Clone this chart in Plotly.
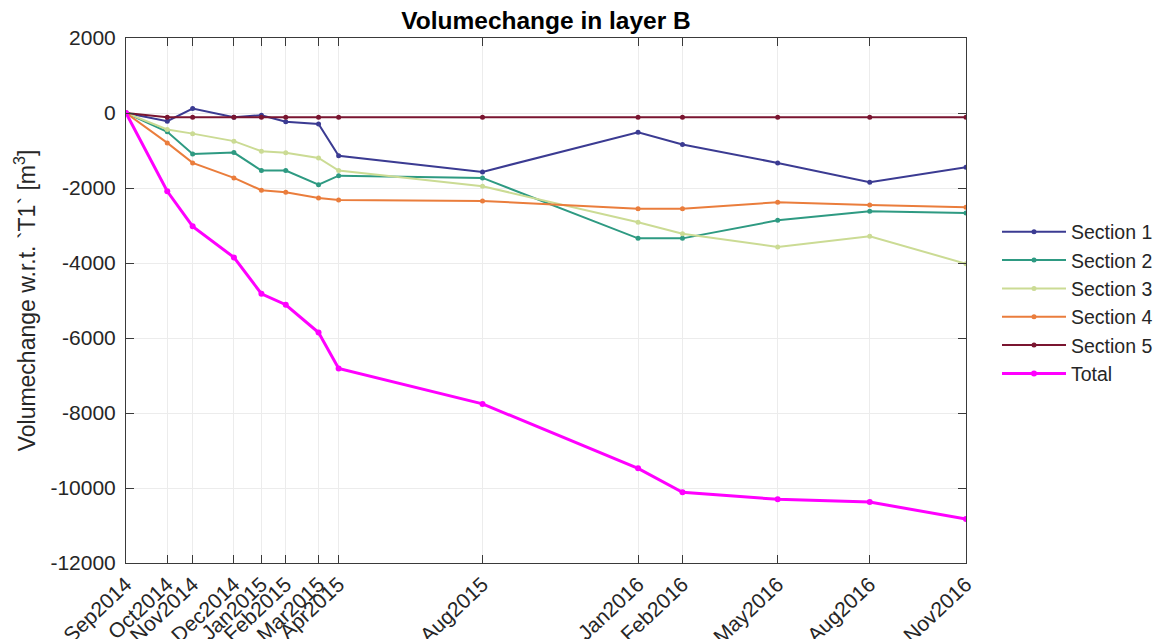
import plotly.graph_objects as go

dates = ["2014-09-15", "2014-10-24", "2014-11-17", "2014-12-26", "2015-01-21",
         "2015-02-13", "2015-03-16", "2015-04-04", "2015-08-18", "2016-01-12",
         "2016-02-23", "2016-05-23", "2016-08-18", "2016-11-17"]
tick_labels = ["Sep2014", "Oct2014", "Nov2014", "Dec2014", "Jan2015", "Feb2015",
               "Mar2015", "Apr2015", "Aug2015", "Jan2016", "Feb2016", "May2016",
               "Aug2016", "Nov2016"]

section1 = [0, -220, 120, -110, -60, -235, -290, -1140, -1571, -512, -841, -1331, -1848, -1447]
section2 = [0, -500, -1090, -1055, -1535, -1535, -1910, -1670, -1731, -3343, -3343, -2862, -2621, -2666]
section3 = [0, -440, -550, -750, -1020, -1063, -1197, -1535, -1954, -2915, -3218, -3573, -3289, -4019]
section4 = [0, -797, -1330, -1730, -2060, -2115, -2265, -2320, -2345, -2550, -2550, -2381, -2452, -2515]
section5 = [0, -110, -110, -110, -110, -110, -110, -110, -110, -110, -110, -110, -110, -110]
total = [0, -2088, -3022, -3850, -4820, -5113, -5853, -6814, -7757, -9475, -10116, -10303, -10374, -10828]

series = [
    ("Section 1", section1, "#3b3b92", 2, 5),
    ("Section 2", section2, "#2e9a82", 2, 5),
    ("Section 3", section3, "#cbdb94", 2, 5),
    ("Section 4", section4, "#ea7d3c", 2, 5),
    ("Section 5", section5, "#7a1530", 2, 5),
    ("Total", total, "#ff00ff", 3, 6),
]

fig = go.Figure()
for name, vals, color, w, ms in series:
    fig.add_trace(go.Scatter(
        x=dates, y=vals, name=name, mode="lines+markers",
        line=dict(color=color, width=w),
        marker=dict(color=color, size=ms, symbol="circle"),
    ))

font_family = "Liberation Sans, Arial, sans-serif"
axis_color = "#3a3a3a"
W, H = 1155, 631
L, R, T, B = 118, 197, 30, 76

fig.update_layout(
    width=W, height=H,
    autosize=False,
    paper_bgcolor="white", plot_bgcolor="white",
    margin=dict(l=L, r=R, t=T, b=B, autoexpand=False),
    font=dict(family=font_family, size=21, color="#262626"),
    title=dict(text="<b>Volumechange in layer B</b>", x=(L + (W - L - R) / 2) / W, xanchor="center",
               y=1 - 12 / H, yanchor="middle", font=dict(size=24.5, color="#000000")),
    showlegend=True,
    legend=dict(xref="container", yref="container", x=989 / W, y=1 - 204.5 / H,
                xanchor="left", yanchor="top",
                font=dict(size=19.5, color="#262626"), bgcolor="rgba(255,255,255,0)",
                itemwidth=64, tracegroupgap=0),
)

fig.update_xaxes(
    type="date",
    range=[dates[0], dates[-1]],
    tickmode="array", tickvals=dates, ticktext=tick_labels,
    tickangle=-43,
    ticks="inside", ticklen=8, tickcolor=axis_color,
    showgrid=True, gridcolor="#ececec", gridwidth=1,
    showline=True, linecolor=axis_color, linewidth=1, mirror="ticks",
    zeroline=False, automargin=False,
    tickfont=dict(size=21, color="#262626"),
)
fig.update_yaxes(
    range=[-12000, 2000],
    tickmode="array", tickvals=[-12000, -10000, -8000, -6000, -4000, -2000, 0, 2000],
    ticktext=["-12000", "-10000", "-8000", "-6000", "-4000", "-2000", "0", "2000"],
    ticks="inside", ticklen=8, tickcolor=axis_color,
    showgrid=True, gridcolor="#ececec", gridwidth=1,
    showline=True, linecolor=axis_color, linewidth=1, mirror="ticks",
    zeroline=False, automargin=False,
    ticklabelstandoff=5,
    tickfont=dict(size=21, color="#262626"),
    title=dict(text="Volumechange w.r.t. `T1` [m<sup>3</sup>]", standoff=8,
               font=dict(size=23, color="#262626")),
)

fig.write_html("out.html")
